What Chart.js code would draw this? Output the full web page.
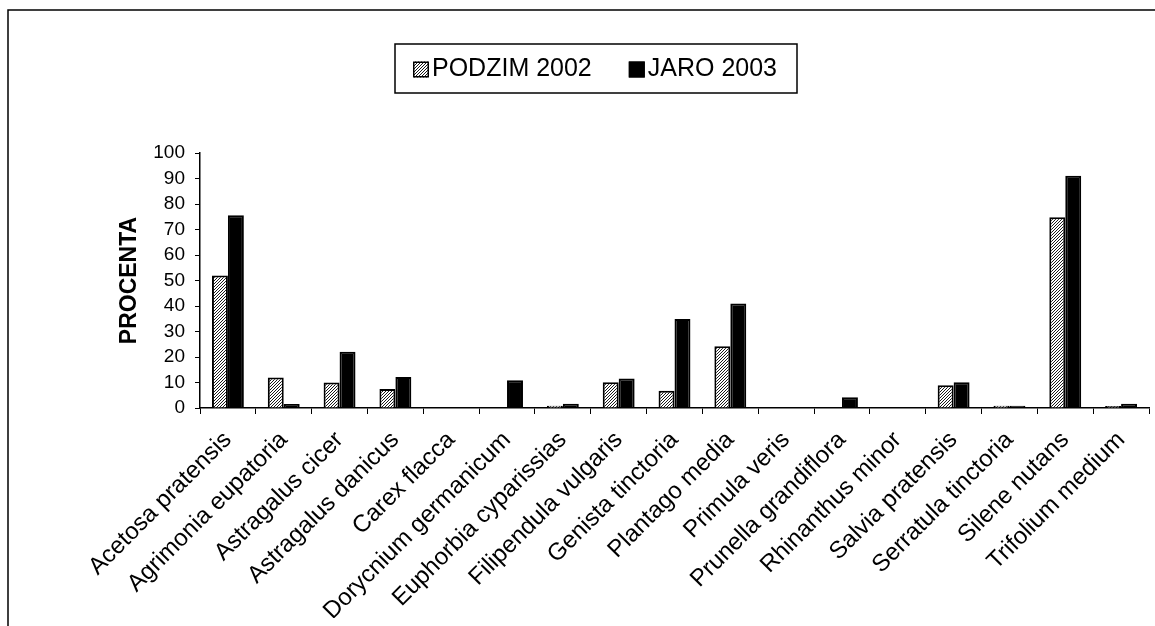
<!DOCTYPE html>
<html>
<head>
<meta charset="utf-8">
<script src="https://cdn.jsdelivr.net/npm/chart.js@4.4.1/dist/chart.umd.min.js"></script>
<style>
  html, body { margin: 0; padding: 0; background: #fff; }
  #wrap { width: 1155px; height: 626px; }
</style>
</head>
<body>
<div id="wrap"><canvas id="c" width="1155" height="626"></canvas></div>
<script>
// Species observed
const species = [
  'Acetosa pratensis', 'Agrimonia eupatoria', 'Astragalus cicer', 'Astragalus danicus',
  'Carex flacca', 'Dorycnium germanicum', 'Euphorbia cyparissias', 'Filipendula vulgaris',
  'Genista tinctoria', 'Plantago media', 'Primula veris', 'Prunella grandiflora',
  'Rhinanthus minor', 'Salvia pratensis', 'Serratula tinctoria', 'Silene nutans',
  'Trifolium medium'
];
// Share of plots (%) per season
const podzim2002 = [52, 12, 10, 7.5, 0, 0, 0.9, 10.1, 6.8, 24.2, 0, 0, 0, 8.9, 0.9, 74.8, 0.8];
const jaro2003   = [75.6, 1.6, 22.1, 12.2, 0, 10.9, 1.7, 11.6, 34.9, 41.0, 0, 4.2, 0, 10.1, 0.9, 91.1, 1.7];
const seriesNames = ['PODZIM 2002', 'JARO 2003'];
const yAxisTitle = 'PROCENTA';
const yMin = 0, yMax = 100, yStep = 10;

const FONT = '"Liberation Sans", Arial, sans-serif';

// diagonal hatch fill for the autumn series
function makeHatch() {
  const s = 3;
  const p = document.createElement('canvas');
  p.width = s; p.height = s;
  const g = p.getContext('2d');
  g.fillStyle = '#fff';
  g.fillRect(0, 0, s, s);
  g.strokeStyle = '#000';
  g.lineWidth = 0.9;
  g.beginPath();
  g.moveTo(0, s); g.lineTo(s, 0);
  g.moveTo(-1, 1); g.lineTo(1, -1);
  g.moveTo(s - 1, s + 1); g.lineTo(s + 1, s - 1);
  g.stroke();
  return g.createPattern(p, 'repeat');
}
const ctx0 = document.getElementById('c').getContext('2d');
const hatch = makeHatch();

// white page with the frame line along the top and left edges
const framePlugin = {
  id: 'frame',
  beforeDraw(chart) {
    const c = chart.ctx;
    c.save();
    c.fillStyle = '#fff';
    c.fillRect(0, 0, chart.width, chart.height);
    c.strokeStyle = '#000';
    c.lineWidth = 1.5;
    c.beginPath();
    c.moveTo(8, chart.height);
    c.lineTo(8, 10);
    c.lineTo(chart.width, 10);
    c.stroke();
    c.restore();
  }
};

// boxed legend above the plot
const boxLegendPlugin = {
  id: 'boxLegend',
  afterDraw(chart) {
    const c = chart.ctx;
    const box = { x: 395, y: 44, w: 402, h: 49 };
    c.save();
    c.fillStyle = '#fff';
    c.fillRect(box.x, box.y, box.w, box.h);
    c.strokeStyle = '#000';
    c.lineWidth = 1.5;
    c.strokeRect(box.x, box.y, box.w, box.h);
    c.font = '25px ' + FONT;
    c.textBaseline = 'middle';
    c.textAlign = 'left';
    const sw = 16, midY = box.y + box.h / 2 + 1;
    let x = 413;
    chart.data.datasets.forEach((ds) => {
      c.fillStyle = ds.backgroundColor;
      c.fillRect(x, midY - sw / 2, sw, sw);
      c.strokeStyle = '#000';
      c.lineWidth = 1.5;
      c.strokeRect(x + 0.75, midY - sw / 2 + 0.75, sw - 1.5, sw - 1.5);
      x += sw + 3;
      c.fillStyle = '#000';
      c.fillText(ds.label, x, midY);
      x += c.measureText(ds.label).width + 37;
    });
    c.restore();
  }
};

Chart.defaults.font.family = FONT;
Chart.defaults.color = '#000';

new Chart(ctx0, {
  type: 'bar',
  data: {
    labels: species,
    datasets: [
      {
        label: seriesNames[0],
        data: podzim2002,
        backgroundColor: hatch,
        borderColor: '#000',
        borderWidth: 2
      },
      {
        label: seriesNames[1],
        data: jaro2003,
        backgroundColor: '#000',
        borderColor: '#000',
        borderWidth: 2
      }
    ]
  },
  options: {
    responsive: false,
    animation: false,
    devicePixelRatio: 1,
    categoryPercentage: 2 / 3.5,
    barPercentage: 1,
    layout: { padding: { left: 100, right: 6, top: 153, bottom: 8 } },
    plugins: {
      legend: { display: false },
      tooltip: { enabled: false }
    },
    scales: {
      x: {
        grid: { offset: true, drawOnChartArea: false, drawTicks: true, tickLength: 6, color: '#000', lineWidth: 1 },
        border: { color: '#000', width: 1.5 },
        ticks: { autoSkip: false, minRotation: 45, maxRotation: 45, padding: 12, font: { size: 24 }, color: '#000' },
        afterFit(scale) { scale.height = 626 - 8 - 408; }
      },
      y: {
        min: yMin, max: yMax,
        grid: { drawOnChartArea: false, drawTicks: true, tickLength: 5, color: '#000', lineWidth: 1 },
        border: { color: '#000', width: 1.5 },
        ticks: { stepSize: yStep, autoSkip: false, padding: 10, font: { size: 19 }, color: '#000' },
        title: { display: true, text: yAxisTitle, font: { size: 23, weight: 'bold' }, color: '#000', padding: { top: 16, bottom: 0 } },
        afterFit(scale) { scale.width = 100; }
      }
    }
  },
  plugins: [framePlugin, boxLegendPlugin]
});
</script>
</body>
</html>
